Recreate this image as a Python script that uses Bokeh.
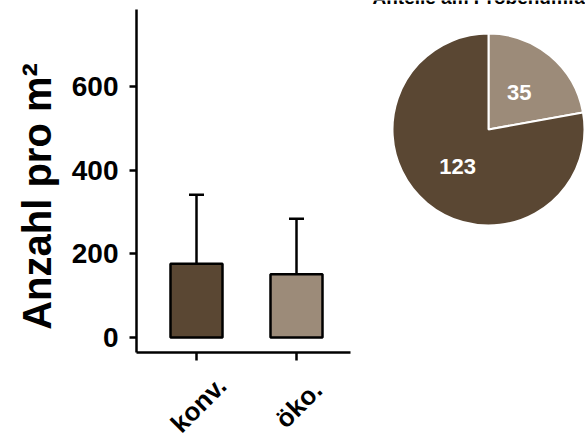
import math
from bokeh.plotting import figure
from bokeh.models import (Label, FixedTicker, Range1d, Whisker, TeeHead, ColumnDataSource,
                          GlobalInlineStyleSheet)
from bokeh.embed import file_html
from bokeh.resources import INLINE

# ---- data ----
categories = ["konv.", "öko."]
means = [176, 151]
sd_upper = [341, 284]
pie_values = [35, 123]
bar_colors = ["#5a4733", "#9c8b79"]
pie_colors = ["#9c8b79", "#5a4733"]
y_ticks = [0, 200, 400, 600]
title_text = "Anteile am Probenumfang"
y_label = "Anzahl pro m²"

FONT = "Liberation Sans"
W, H = 585, 436

# ---- layout constants (pixels) ----
X0_PX, X_PX_PER_UNIT = 136, 100.0       # y-axis line position, px per category step
Y0_PX, Y_PX_PER_UNIT = 337, 0.4185      # pixel row of value 0, px per value unit
x_lo, x_hi = 0.4, 2.54
y_lo, y_hi = -36, 784

xr = Range1d(x_lo - X0_PX / X_PX_PER_UNIT, x_lo + (W - X0_PX) / X_PX_PER_UNIT)
yr = Range1d(-(H - Y0_PX) / Y_PX_PER_UNIT, Y0_PX / Y_PX_PER_UNIT)

p = figure(width=W, height=H, output_backend="svg", toolbar_location=None,
           x_range=xr, y_range=yr, min_border=0)
p.outline_line_color = None
p.grid.grid_line_color = None
p.background_fill_color = "white"

xs = [i + 1 for i in range(len(categories))]
src = ColumnDataSource(dict(x=xs, top=means, upper=sd_upper, color=bar_colors))
p.vbar(x="x", top="top", bottom=0, width=0.52, fill_color="color",
       line_color="black", line_width=2.5, source=src)
w = Whisker(source=src, base="x", upper="upper", lower="top", dimension="height",
            line_width=2.5, line_color="black",
            upper_head=TeeHead(size=15, line_width=2.5, line_color="black"), lower_head=None)
p.add_layout(w)

# axes
p.yaxis.fixed_location = x_lo
p.yaxis.bounds = (y_lo, y_hi)
p.yaxis.ticker = FixedTicker(ticks=y_ticks)
p.yaxis.major_label_text_font = FONT
p.yaxis.major_label_text_font_style = "bold"
p.yaxis.major_label_text_font_size = "28px"
p.yaxis.major_label_text_color = "black"
p.yaxis.axis_line_width = 2.5
p.yaxis.major_tick_line_width = 2.5
p.yaxis.major_tick_out = 7
p.yaxis.major_tick_in = 0
p.yaxis.minor_tick_line_color = None
p.yaxis.major_label_standoff = 11

p.xaxis.fixed_location = y_lo
p.xaxis.bounds = (x_lo, x_hi)
p.xaxis.ticker = FixedTicker(ticks=xs)
p.xaxis.major_label_overrides = {x: "" for x in xs}
p.xaxis.axis_line_width = 2.5
p.xaxis.major_tick_line_width = 2.5
p.xaxis.major_tick_out = 8
p.xaxis.major_tick_in = 0
p.xaxis.minor_tick_line_color = None


def py(px_row):
    return (Y0_PX - px_row) / Y_PX_PER_UNIT


def px(px_col):
    return x_lo + (px_col - X0_PX) / X_PX_PER_UNIT


for x, c in zip(xs, categories):
    p.add_layout(Label(x=x + 0.02, y=py(404), text=c,
                       angle=math.pi / 4, text_align="center", text_baseline="middle",
                       text_font=FONT, text_font_style="bold", text_font_size="26px",
                       text_color="black"))

p.add_layout(Label(x=px(36), y=py(196), text=y_label,
                   angle=math.pi / 2, text_align="center", text_baseline="middle",
                   text_font=FONT, text_font_style="bold", text_font_size="40px",
                   text_color="black"))

# ---- pie (extra ranges, 1 unit = 1 px, centred on pie) ----
CX, CY, R = 488, 129, 96
p.extra_x_ranges = {"pie": Range1d(-CX, W - CX)}
p.extra_y_ranges = {"pie": Range1d(-(H - CY), CY)}

total = sum(pie_values)
starts, ends = [], []
acc = 0.0
for v in pie_values:
    starts.append(math.pi / 2 - 2 * math.pi * acc / total)
    acc += v
    ends.append(math.pi / 2 - 2 * math.pi * acc / total)
psrc = ColumnDataSource(dict(start=starts, end=ends, color=pie_colors))
p.wedge(x=0, y=0, radius=R, start_angle="start", end_angle="end", direction="clock",
        fill_color="color", line_color="white", line_width=2, source=psrc,
        x_range_name="pie", y_range_name="pie")

for s, e, v in zip(starts, ends, pie_values):
    mid = (s + e) / 2
    r = 48
    p.add_layout(Label(x=r * math.cos(mid), y=r * math.sin(mid), text=str(v),
                       x_range_name="pie", y_range_name="pie",
                       text_align="center", text_baseline="middle",
                       text_font=FONT, text_font_style="bold", text_font_size="22px",
                       text_color="white"))

p.add_layout(Label(x=372 - CX, y=CY + 3, text=title_text, x_range_name="pie", y_range_name="pie",
                   text_align="left", text_baseline="alphabetic",
                   text_font=FONT, text_font_style="bold", text_font_size="19px",
                   text_color="black"))

p.stylesheets = [GlobalInlineStyleSheet(css="html, body {margin:0 !important; padding:0 !important; overflow:hidden;}")]

open("out.html", "w").write(file_html(p, INLINE))
